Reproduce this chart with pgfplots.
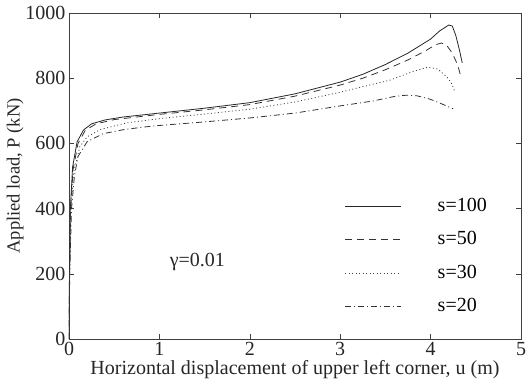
\documentclass[border=0pt]{standalone}
\usepackage{fontspec}
\setmainfont{Liberation Serif}
\usepackage{pgfplots}
\pgfplotsset{compat=1.18}

\pgfplotstableread{
u P
0 0
0.005 200
0.015 400
0.04 528
0.09 605
0.16 641
0.25 660
0.4 672
0.6 681
1.0 693
1.5 708
2.0 725
2.5 752
3.0 788
3.25 812
3.5 842
3.75 877
4.0 920
4.1 945
4.2 963
4.24 960
4.28 930
4.32 885
4.35 847
}\sHundred

\pgfplotstableread{
u P
0 0
0.006 200
0.018 400
0.045 520
0.1 600
0.18 640
0.3 660
0.5 673
1.0 689
1.5 703
2.0 719
2.5 745
3.0 779
3.25 800
3.5 826
3.75 856
3.95 885
4.05 902
4.12 908
4.18 900
4.24 877
4.3 840
4.34 800
}\sFifty

\pgfplotstableread{
u P
0 0
0.007 200
0.022 400
0.05 510
0.12 590
0.2 620
0.35 643
0.64 663
1.0 676
1.5 690
2.0 705
2.5 727
3.0 757
3.25 774
3.55 794
3.8 820
3.97 834
4.08 828
4.18 804
4.23 785
4.27 758
}\sThirty

\pgfplotstableread{
u P
0 0
0.008 200
0.028 400
0.06 500
0.1 560
0.2 605
0.38 630
0.6 642
0.82 650
1.0 655
1.5 666
2.0 678
2.5 693
3.0 715
3.36 730
3.6 744
3.74 748
3.85 746
3.99 736
4.1 724
4.25 706
}\sTwenty

\begin{document}
\begin{tikzpicture}
\begin{axis}[
  scale only axis,
  width=452pt, height=326pt,
  xmin=0, xmax=5, ymin=0, ymax=1000,
  xtick={0,1,2,3,4,5},
  ytick={0,200,400,600,800,1000},
  tick align=inside,
  major tick length=5pt,
  tick style={black!75, line width=0.6pt},
  axis line style={black!75, line width=0.8pt},
  /pgf/number format/assume math mode=true,
  /pgf/number format/1000 sep={},
  ticklabel style={font=\fontsize{20}{24}\selectfont, text=black!85},
  xlabel={Horizontal displacement of upper left corner, u (m)},
  ylabel={Applied load, P (kN)},
  xlabel style={font=\fontsize{20}{24}\selectfont, text=black!85, at={(axis description cs:0.5,-0.095)}, anchor=center},
  ylabel style={font=\fontsize{18.5}{22}\selectfont, text=black!85, at={(axis description cs:-0.119,0.5)}, anchor=center},
  legend image code/.code={\draw[#1] (0pt,0pt) -- (56pt,0pt);},
  legend style={draw=none, fill=none, inner sep=0pt,
    at={(axis cs:3.05,435)}, anchor=north west,
    font=\fontsize{20}{24}\selectfont,
    row sep=15.5pt,
    nodes={inner xsep=0pt, inner ysep=0pt, text height=14pt, text depth=4pt},
    /tikz/every odd column/.append style={column sep=36pt}},
  legend cell align=left,
]
\addplot[black!85, line width=0.8pt] table {\sHundred};
\addlegendentry{s=100}
\addplot[black!80, line width=0.8pt, dash pattern=on 7pt off 5pt] table {\sFifty};
\addlegendentry{s=50}
\addplot[black!75, line width=0.8pt, dash pattern=on 1pt off 2.5pt] table {\sThirty};
\addlegendentry{s=30}
\addplot[black!80, line width=0.8pt, dash pattern=on 6pt off 3pt on 1pt off 3pt] table {\sTwenty};
\addlegendentry{s=20}
\node[font=\fontsize{20}{24}\selectfont, text=black!85] at (axis cs:1.42,236) {γ=0.01};
\end{axis}
\pgfresetboundingbox
\path ([shift={(-69pt,-44pt)}]current axis.south west) rectangle ([shift={(6pt,13pt)}]current axis.north east);
\end{tikzpicture}
\end{document}
